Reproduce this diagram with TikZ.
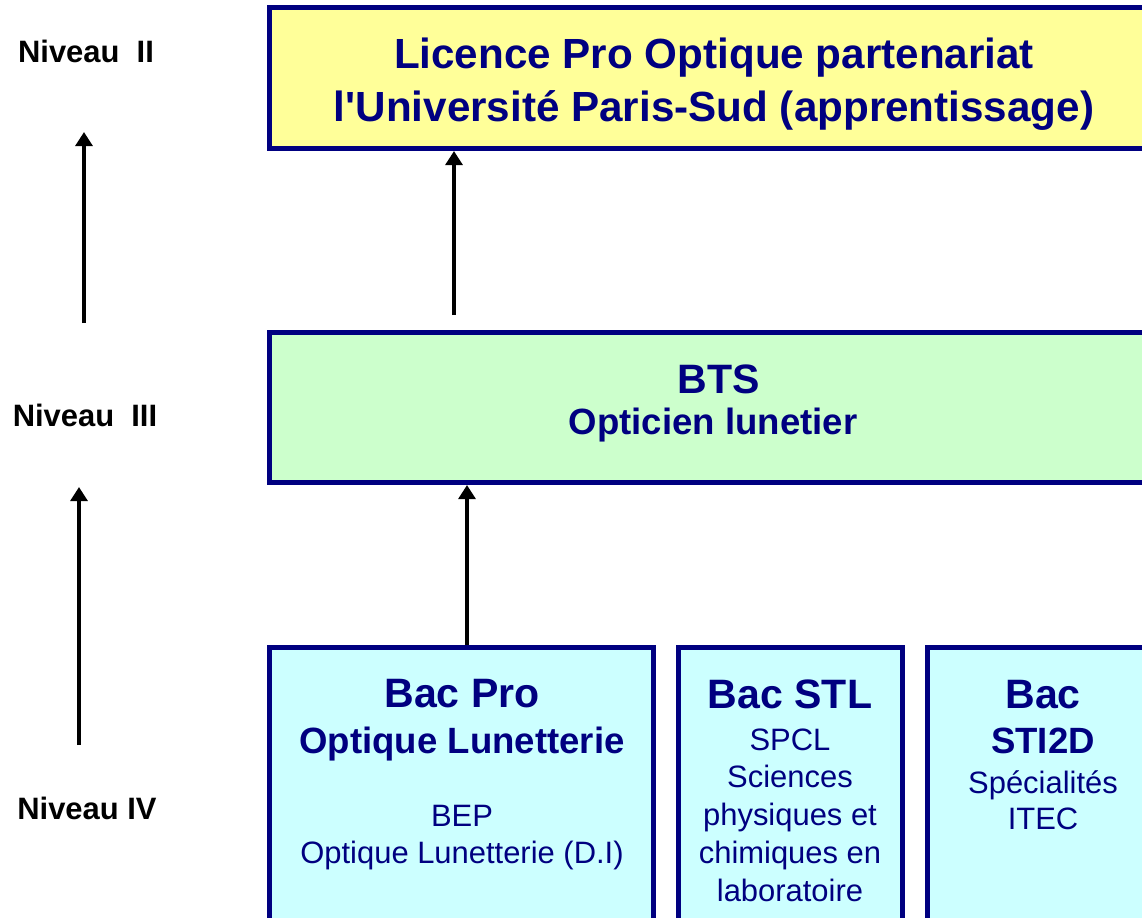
\documentclass[tikz,border=0pt]{standalone}
\usepackage{fontspec}
\setmainfont{Liberation Sans}
\newfontfamily\apofont{Liberation Sans}
\usetikzlibrary{arrows.meta}
\definecolor{navy}{HTML}{000080}
\definecolor{licyellow}{HTML}{FFFF99}
\definecolor{btsgreen}{HTML}{CCFFCC}
\definecolor{baccyan}{HTML}{CCFFFF}
\begin{document}
\begin{tikzpicture}[x=0.025cm,y=-0.025cm,
  cadre/.style={draw=navy,line width=0.125cm,inner sep=0pt},
  big/.style={anchor=base,inner sep=0pt,text=navy,font=\fontsize{29.2}{35}\selectfont\bfseries},
  mid/.style={anchor=base,inner sep=0pt,text=navy,font=\fontsize{26}{31}\selectfont\bfseries},
  reg/.style={anchor=base,inner sep=0pt,text=navy,font=\fontsize{22}{27}\selectfont},
  niv/.style={anchor=base,inner sep=0pt,font=\fontsize{22}{26}\selectfont\bfseries},
  fleche/.style={line width=0.1cm,-{Triangle[width=0.42cm,length=0.35cm]}}]
\useasboundingbox (0,0) rectangle (1142,917);
\clip (0,0) rectangle (1142,917);
% niveaux
\node[niv] (n2) at (86,62) {Niveau\ \ II};
\node[niv] (n3) at (85,426) {Niveau\ \ III};
\node[niv] (n4) at (87,819) {Niveau IV};
\coordinate (g1) at (84,323); \coordinate (h1) at (84,132);
\draw[fleche] (g1) -- (h1);
\coordinate (g2) at (79,745); \coordinate (h2) at (79,487);
\draw[fleche] (g2) -- (h2);
% cadres
\node[cadre,fill=licyellow,minimum width=22.2cm,minimum height=3.525cm] (lic) at (714,78) {};
\node[cadre,fill=btsgreen,minimum width=22.2cm,minimum height=3.75cm] (bts) at (714,407.5) {};
\node[cadre,fill=baccyan,minimum width=9.59cm,minimum height=7.81cm] (bp) at (461.25,803.75) {};
\node[cadre,fill=baccyan,minimum width=5.61cm,minimum height=7.81cm] (stl) at (790.25,803.75) {};
\node[cadre,fill=baccyan,minimum width=5.78cm,minimum height=7.81cm] (sti) at (1043,803.75) {};
% textes
\node[big,font=\fontsize{30}{36}\selectfont\bfseries] (lic1) at (714,68) {Licence Pro Optique partenariat};
\node[big,font=\fontsize{30}{36}\selectfont\bfseries] (lic2) at (714,121) {l{\apofont\bfseries '}Université Paris-Sud (apprentissage)};
\node[big] (bts1) at (719,393) {BTS};
\node[mid] (bts2) at (713,434) {Opticien lunetier};
\node[big] (bp1) at (462,707) {Bac Pro};
\node[mid] (bp2) at (462,753) {Optique Lunetterie};
\node[reg] (bp3) at (462,826) {BEP};
\node[reg] (bp4) at (462,863) {Optique Lunetterie (D.I)};
\node[big] (stl1) at (790,708) {Bac STL};
\foreach \t/\b [count=\i from 2] in {SPCL/750,Sciences/787,physiques et/825,chimiques en/863,laboratoire/901}
  \node[reg] (stl\i) at (790,\b) {\t};
\node[big] (sti1) at (1043,708) {Bac};
\node[mid] (sti2) at (1043,753) {STI2D};
\node[reg] (sti3) at (1043,793) {Spécialités};
\node[reg] (sti4) at (1043,829) {ITEC};
% fleches
\coordinate (c1) at (454,315);
\draw[fleche] (c1) -- (c1 |- lic.south);
\coordinate (c2) at (467,0);
\draw[fleche] (c2 |- bp.north) -- (c2 |- bts.south);
\end{tikzpicture}
\end{document}
